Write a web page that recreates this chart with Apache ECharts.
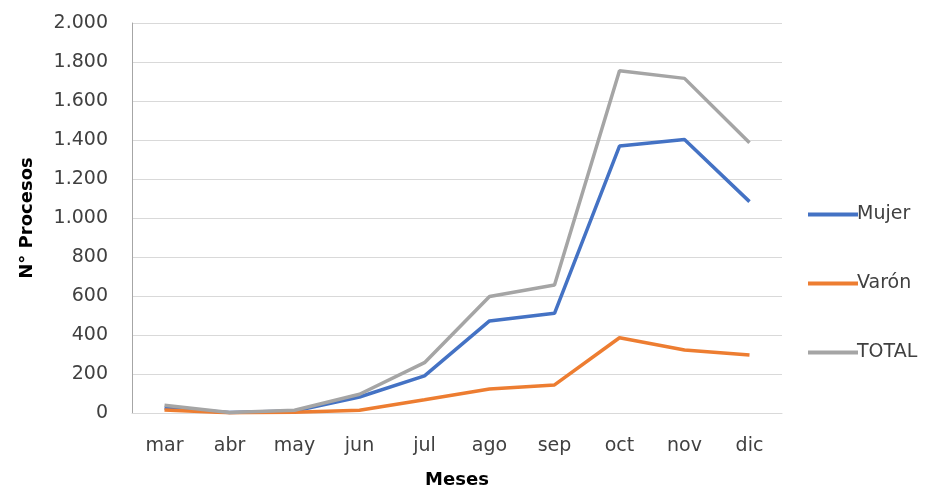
<!DOCTYPE html>
<html>
<head>
<meta charset="utf-8">
<title>Procesos por mes</title>
<script src="https://cdn.jsdelivr.net/npm/echarts@6/dist/echarts.min.js"></script>
<style>
  html, body { margin: 0; padding: 0; background: #fff; }
  #chart { width: 937px; height: 490px; }
</style>
</head>
<body>
<div id="chart"></div>
<script>
const months = ['mar', 'abr', 'may', 'jun', 'jul', 'ago', 'sep', 'oct', 'nov', 'dic']
const mujer = [25, 2, 10, 82, 190, 472, 511, 1369, 1403, 1084]
const varon = [15, 1, 4, 14, 68, 123, 144, 386, 323, 297]
const total = [40, 3, 14, 96, 258, 597, 656, 1755, 1716, 1386]

const fontFamily = '"DejaVu Sans", sans-serif'
const textColor = '#404040'

const fmt = v => String(v).replace(/\B(?=(\d{3})+(?!\d))/g, '.')

const chart = echarts.init(document.getElementById('chart'))

const lineSeries = (name, data, color) => ({
  name: name,
  type: 'line',
  data: data,
  symbol: 'none',
  lineStyle: { width: 3.5, color: color },
  itemStyle: { color: color }
})

chart.setOption({
  animation: false,
  textStyle: { fontFamily: fontFamily },
  grid: { left: 132, right: 155, top: 23, bottom: 77, outerBoundsMode: 'none', containLabel: false },
  legend: {
    orient: 'vertical',
    left: 803,
    top: 200,
    itemGap: 50,
    itemWidth: 50,
    itemHeight: 4,
    icon: 'rect',
    textStyle: { fontSize: 19, color: textColor, padding: [0, 0, 0, -6] },
    data: ['Mujer', 'Varón', 'TOTAL']
  },
  xAxis: {
    type: 'category',
    data: months,
    boundaryGap: true,
    name: 'Meses',
    nameLocation: 'middle',
    nameGap: 58,
    nameTextStyle: { fontSize: 18, fontWeight: 'bold', color: '#000' },
    axisLine: { lineStyle: { color: '#d9d9d9' } },
    axisTick: { show: false },
    axisLabel: { fontSize: 19, color: textColor, margin: 24 }
  },
  yAxis: {
    type: 'value',
    min: 0,
    max: 2000,
    interval: 200,
    name: 'N° Procesos',
    nameLocation: 'middle',
    nameGap: 96,
    nameTextStyle: { fontSize: 18, fontWeight: 'bold', color: '#000' },
    axisLine: { show: true, lineStyle: { color: '#a6a6a6' } },
    axisTick: { show: false },
    splitLine: { lineStyle: { color: '#d9d9d9' } },
    axisLabel: { fontSize: 19, color: textColor, margin: 24, formatter: fmt }
  },
  series: [
    lineSeries('Mujer', mujer, '#4472C4'),
    lineSeries('Varón', varon, '#ED7D31'),
    lineSeries('TOTAL', total, '#A5A5A5')
  ]
})
</script>
</body>
</html>
